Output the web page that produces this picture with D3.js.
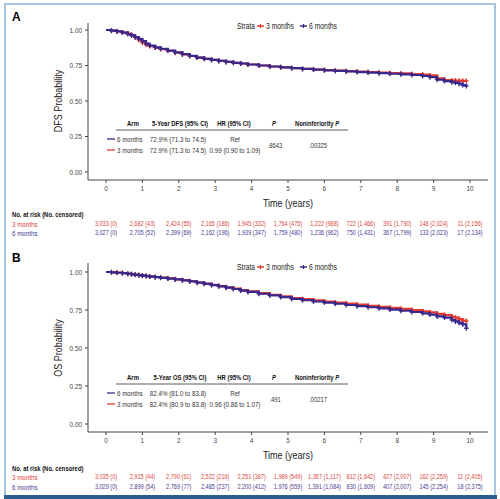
<!DOCTYPE html>
<html>
<head>
<meta charset="utf-8">
<script src="https://cdn.jsdelivr.net/npm/d3@7"></script>
<style>
  body { margin: 0; background: #fff; }
  text { font-family: "Liberation Sans", Arial, sans-serif; }
</style>
</head>
<body>
<div id="chart"></div>
<script>

// time points (years)
var dfsTime = [0, 0.15, 0.3, 0.45, 0.6, 0.7, 0.8, 0.9, 1.0, 1.1, 1.2, 1.35, 1.5, 1.7, 1.9, 2.1, 2.3, 2.5, 2.7, 2.9, 3.1, 3.3, 3.5, 3.7, 3.9, 4.2, 4.5, 4.8, 5.1, 5.4, 5.7, 6.0, 6.3, 6.6, 6.9, 7.2, 7.5, 7.8, 8.1, 8.4, 8.7, 8.9, 9.1, 9.3, 9.5, 9.6, 9.7, 9.8, 9.9];
var dfs3 = [1.0, 0.996, 0.99, 0.983, 0.974, 0.963, 0.948, 0.93, 0.912, 0.897, 0.886, 0.876, 0.866, 0.853, 0.84, 0.828, 0.817, 0.806, 0.797, 0.789, 0.782, 0.775, 0.769, 0.764, 0.757, 0.75, 0.743, 0.737, 0.731, 0.726, 0.722, 0.718, 0.714, 0.711, 0.707, 0.704, 0.70, 0.697, 0.694, 0.69, 0.686, 0.68, 0.66, 0.648, 0.645, 0.644, 0.643, 0.642, 0.642];
var dfs6 = [1.0, 0.995, 0.99, 0.982, 0.972, 0.962, 0.95, 0.937, 0.922, 0.905, 0.89, 0.877, 0.868, 0.855, 0.842, 0.83, 0.818, 0.806, 0.797, 0.789, 0.782, 0.775, 0.769, 0.764, 0.757, 0.75, 0.743, 0.737, 0.731, 0.726, 0.721, 0.716, 0.712, 0.708, 0.704, 0.70, 0.696, 0.692, 0.688, 0.683, 0.676, 0.668, 0.65, 0.64, 0.632, 0.628, 0.622, 0.612, 0.605];

var osTime = dfsTime;
var os3 = [1.0, 0.998, 0.996, 0.993, 0.989, 0.986, 0.983, 0.98, 0.977, 0.974, 0.971, 0.967, 0.963, 0.958, 0.952, 0.946, 0.939, 0.931, 0.923, 0.915, 0.907, 0.899, 0.89, 0.881, 0.872, 0.861, 0.85, 0.84, 0.829, 0.821, 0.813, 0.806, 0.799, 0.792, 0.785, 0.778, 0.771, 0.764, 0.757, 0.749, 0.741, 0.734, 0.725, 0.716, 0.705, 0.70, 0.69, 0.68, 0.677];
var os6 = [1.0, 0.998, 0.995, 0.992, 0.988, 0.985, 0.982, 0.979, 0.976, 0.973, 0.97, 0.966, 0.962, 0.957, 0.951, 0.945, 0.938, 0.93, 0.922, 0.914, 0.906, 0.897, 0.888, 0.878, 0.869, 0.857, 0.846, 0.835, 0.823, 0.814, 0.806, 0.799, 0.791, 0.783, 0.775, 0.768, 0.761, 0.753, 0.745, 0.737, 0.728, 0.72, 0.708, 0.70, 0.685, 0.675, 0.665, 0.655, 0.63];

var xTicks = [0, 1, 2, 3, 4, 5, 6, 7, 8, 9, 10];
var yTicks = [0, 0.25, 0.5, 0.75, 1];

// numbers at risk (No. censored)
var dfsRisk3 = ["3,033 (0)", "2,682 (43)", "2,424 (55)", "2,165 (186)", "1,945 (332)", "1,764 (475)", "1,222 (988)", "722 (1,466)", "391 (1,790)", "148 (2,024)", "11 (2,156)"];
var dfsRisk6 = ["3,027 (0)", "2,705 (52)", "2,399 (69)", "2,162 (196)", "1,939 (347)", "1,759 (480)", "1,236 (962)", "750 (1,431)", "367 (1,799)", "133 (2,023)", "17 (2,134)"];
var osRisk3 = ["3,035 (0)", "2,915 (44)", "2,790 (61)", "2,522 (216)", "2,251 (387)", "1,989 (549)", "1,367 (1,117)", "812 (1,642)", "427 (2,007)", "162 (2,259)", "11 (2,405)"];
var osRisk6 = ["3,029 (0)", "2,899 (54)", "2,769 (77)", "2,485 (237)", "2,200 (412)", "1,976 (559)", "1,391 (1,084)", "830 (1,609)", "407 (2,007)", "145 (2,254)", "18 (2,375)"];

// inset summary tables
var dfsHeaders = ["Arm", "5-Year DFS (95% CI)", "HR (95% CI)", "P", "Noninferiority P"];
var osHeaders = ["Arm", "5-Year OS (95% CI)", "HR (95% CI)", "P", "Noninferiority P"];
var dfsRows = [["6 months", "72.9% (71.3 to 74.5)", "Ref"], ["3 months", "72.9% (71.3 to 74.5)", "0.99 (0.90 to 1.09)"]];
var dfsP = [".8643", ".00325"];
var osRows = [["6 months", "82.4% (81.0 to 83.8)", "Ref"], ["3 months", "82.4% (80.9 to 83.8)", "0.96 (0.86 to 1.07)"]];
var osP = [".491", ".00217"];

var red = "#e4392f";
var blue = "#38288c";
var redText = "#d9443c";
var blueText = "#463a91";
var NARROW = 0.82;   // fake a condensed face

var W = 500, H = 499;
var svg = d3.select("#chart").append("svg").attr("width", W).attr("height", H);

// journal frame
svg.append("rect").attr("x", 5).attr("y", 4).attr("width", 490).attr("height", 493)
    .attr("fill", "none").attr("stroke", "#a9c6de").attr("stroke-width", 2);
svg.append("rect").attr("x", 4).attr("y", 495).attr("width", 493).attr("height", 4).attr("fill", "#2c5d8e");

var x = d3.scaleLinear().domain([0, 10]).range([106, 470]);

// condensed text helper
function txt(sel, tx, ty, size, anchor, rot) {
    return sel.append("text")
        .attr("transform", "translate(" + tx + "," + ty + ")" + (rot ? " rotate(" + rot + ")" : "") + " scale(" + NARROW + ",1)")
        .attr("dy", "0.35em").attr("font-size", size).attr("text-anchor", anchor || "start");
}

function drawPanel(p) {
    var g = svg.append("g");
    var y = d3.scaleLinear().domain([0, 1]).range([p.yBottom, p.yTop]);

    g.append("text").attr("x", 12).attr("y", p.labelY)
        .attr("font-weight", "bold").attr("font-size", 12).text(p.label);

    // axes
    g.append("line").attr("x1", 88).attr("x2", 88).attr("y1", p.axisTop).attr("y2", p.axisY)
        .attr("stroke", "#444").attr("stroke-width", 1);
    g.append("line").attr("x1", 88).attr("x2", 488).attr("y1", p.axisY).attr("y2", p.axisY)
        .attr("stroke", "#444").attr("stroke-width", 1);

    yTicks.forEach(function(d) {
        g.append("line").attr("x1", 85).attr("x2", 88).attr("y1", y(d)).attr("y2", y(d)).attr("stroke", "#444");
        txt(g, 82, y(d), 7.8, "end").attr("fill", "#444").text(d3.format(".2f")(d));
    });
    xTicks.forEach(function(d) {
        g.append("line").attr("x1", x(d)).attr("x2", x(d)).attr("y1", p.axisY).attr("y2", p.axisY + 3).attr("stroke", "#444");
        txt(g, x(d), p.axisY + 8, 7.8, "middle").attr("fill", "#444").text(d);
    });

    txt(g, x(5), p.axisY + 23, 11, "middle").attr("fill", "#222").text("Time (years)");
    txt(g, 58, (p.yTop + p.yBottom) / 2, 11, "middle", -90).attr("fill", "#222").text(p.yTitle);

    // curves, 3 months under 6 months
    var step = d3.line().x(function(d) { return x(d[0]); }).y(function(d) { return y(d[1]); }).curve(d3.curveStepAfter);
    [[p.s3, red], [p.s6, blue]].forEach(function(s) {
        var pts = p.time.map(function(t, i) { return [t, s[0][i]]; });
        g.append("path").attr("d", step(pts)).attr("fill", "none").attr("stroke", s[1]).attr("stroke-width", 2.2);
        // censor marks
        g.selectAll(null).data(pts.slice(1)).enter().append("path")
            .attr("d", function(d) {
                var cx = x(d[0]), cy = y(d[1]);
                return "M" + (cx - 2.2) + "," + cy + "H" + (cx + 2.2) + "M" + cx + "," + (cy - 2.5) + "V" + (cy + 2.5);
            })
            .attr("stroke", s[1]).attr("stroke-width", 1.3);
    });

    // legend
    txt(g, 237, p.legendY, 8.3).attr("fill", "#222").text("Strata");
    [[257, red, "3 months"], [300, blue, "6 months"]].forEach(function(l) {
        g.append("line").attr("x1", l[0]).attr("x2", l[0] + 7).attr("y1", p.legendY).attr("y2", p.legendY)
            .attr("stroke", l[1]).attr("stroke-width", 1.5);
        g.append("line").attr("x1", l[0] + 3.5).attr("x2", l[0] + 3.5).attr("y1", p.legendY - 2).attr("y2", p.legendY + 2)
            .attr("stroke", l[1]).attr("stroke-width", 1.2);
        txt(g, l[0] + 9, p.legendY, 8.3).attr("fill", "#222").text(l[2]);
    });

    // inset table
    var colX = [133, 180, 234, 274, 317];
    p.headers.forEach(function(d, i) {
        var t = txt(g, colX[i], p.headY, 7.2, "middle").attr("font-weight", "bold").attr("fill", "#111");
        if (d === "P") { t.append("tspan").attr("font-style", "italic").text("P"); }
        else if (d === "Noninferiority P") {
            t.append("tspan").text("Noninferiority ");
            t.append("tspan").attr("font-style", "italic").text("P");
        } else { t.text(d); }
    });
    g.append("line").attr("x1", 116).attr("x2", 348).attr("y1", p.headLineY).attr("y2", p.headLineY)
        .attr("stroke", "#333").attr("stroke-width", 0.8);
    p.rows.forEach(function(r, i) {
        var ry = p.rowY[i];
        g.append("line").attr("x1", 107).attr("x2", 115).attr("y1", ry).attr("y2", ry)
            .attr("stroke", i === 0 ? blue : red).attr("stroke-width", 1.3);
        txt(g, 117, ry, 7.6).attr("fill", "#333").text(r[0]);
        txt(g, 178, ry, 7.6, "middle").attr("fill", "#333").text(r[1]);
        txt(g, 235, ry, 7.6, "middle").attr("fill", "#333").text(r[2]);
    });
    txt(g, 275, p.pY, 7.2, "middle").attr("fill", "#333").text(p.pVals[0]);
    txt(g, 318, p.pY, 7.2, "middle").attr("fill", "#333").text(p.pVals[1]);

    // risk table
    txt(g, 12, p.riskY[0], 7.2).attr("font-weight", "bold").attr("fill", "#111").text("No. at risk (No. censored)");
    [[p.r3, redText, "3 months"], [p.r6, blueText, "6 months"]].forEach(function(r, j) {
        var ry = p.riskY[j + 1];
        txt(g, 12, ry, 7.6).attr("fill", r[1]).text(r[2]);
        r[0].forEach(function(d, i) {
            txt(g, x(xTicks[i]), ry, 6.8, "middle").attr("fill", r[1]).text(d);
        });
    });
}

drawPanel({
    label: "A", labelY: 21, yTop: 30, yBottom: 172, axisTop: 23, axisY: 180, yTitle: "DFS Probability",
    legendY: 26, headY: 123, headLineY: 130, rowY: [139, 150], pY: 145, headers: dfsHeaders,
    riskY: [214, 224, 233], time: dfsTime, s3: dfs3, s6: dfs6,
    rows: dfsRows, pVals: dfsP, r3: dfsRisk3, r6: dfsRisk6
});
drawPanel({
    label: "B", labelY: 262, yTop: 272, yBottom: 424, axisTop: 263, axisY: 432, yTitle: "OS Probability",
    legendY: 267, headY: 377, headLineY: 384, rowY: [393, 404], pY: 399, headers: osHeaders,
    riskY: [468, 477, 487], time: osTime, s3: os3, s6: os6,
    rows: osRows, pVals: osP, r3: osRisk3, r6: osRisk6
});
</script>
</body>
</html>
